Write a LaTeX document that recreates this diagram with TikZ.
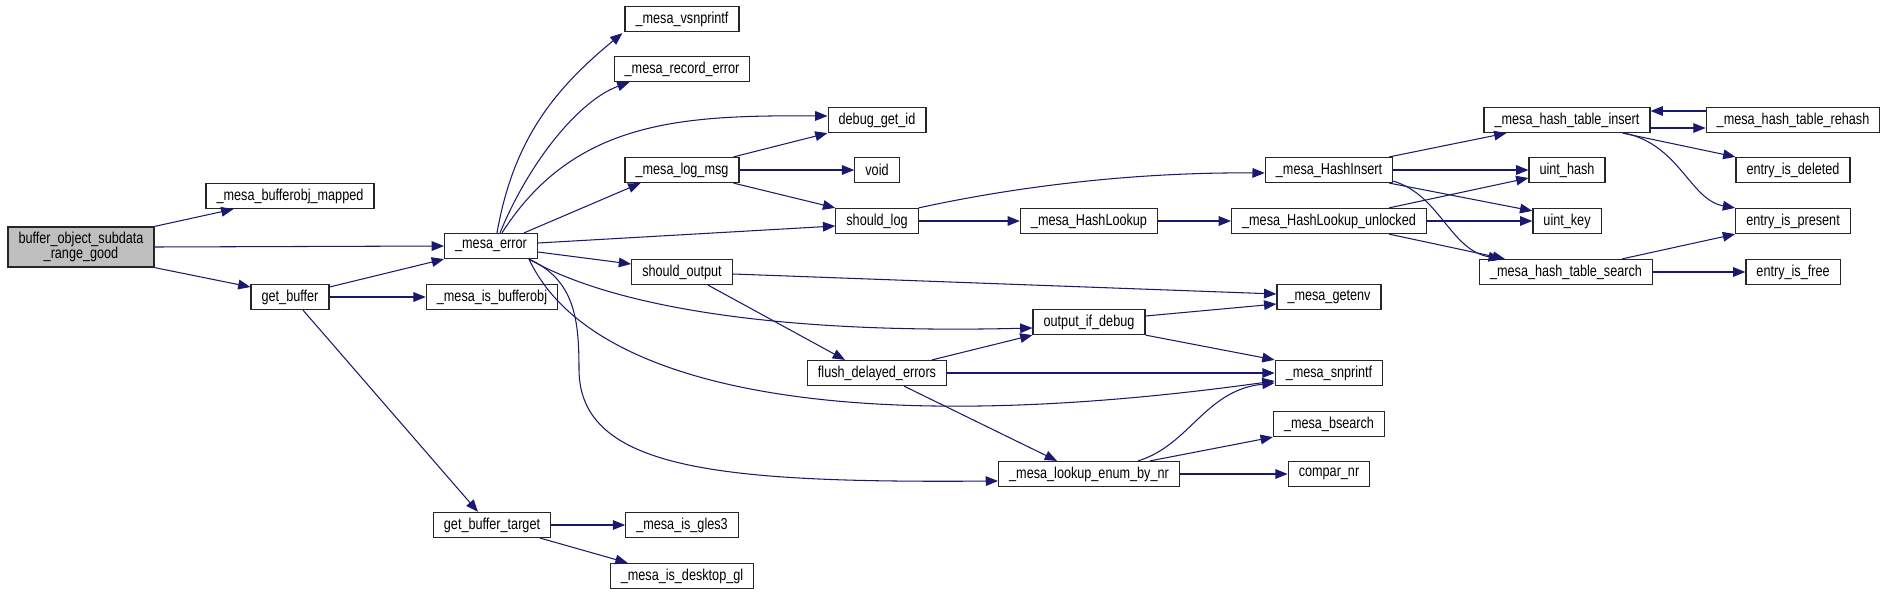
\documentclass[tikz,border=0pt]{standalone}
\usepackage{fontspec}
\setmainfont[FakeStretch=0.8]{Liberation Sans}
\usepackage{xcolor}
\definecolor{edgeblue}{RGB}{25,25,112}
\definecolor{rootgray}{RGB}{191,191,191}
\usepackage{tikz}
\usetikzlibrary{arrows.meta,calc}

\begin{document}
\begin{tikzpicture}[x=0.02cm, y=-0.02cm,
    fn/.style={rectangle, draw=black!85, fill=white, line width=0.7pt,
               minimum height=0.5cm, inner xsep=6pt, inner ysep=0pt,
               font=\fontsize{9}{10}\selectfont},
    cur/.style={fn, fill=rootgray, minimum height=0.8cm, align=center,
                font=\fontsize{9}{8.5}\selectfont},
    arr/.style={-{Triangle[length=7pt,width=5.5pt]}, edgeblue, line width=0.6pt},
  ]
  \useasboundingbox (0,0) rectangle (1888,595);

  %% COLUMN 1 -- caller
  \node[cur] (bosr) at (81,247) {buffer\_object\_subdata\\\_range\_good};

  %% COLUMN 2
  \node[fn] (bomap) at (290,196) {\_mesa\_bufferobj\_mapped};
  \node[fn] (gbuf)  at (290,297) {get\_buffer};

  %% COLUMN 3
  \node[fn] (err)  at (491,246) {\_mesa\_error};
  \node[fn] (isbo) at (492,297) {\_mesa\_is\_bufferobj};
  \node[fn] (gbt)  at (492,525) {get\_buffer\_target};

  %% COLUMN 4
  \node[fn] (vsnp) at (682,19)  {\_mesa\_vsnprintf};
  \node[fn] (rec)  at (682,69)  {\_mesa\_record\_error};
  \node[fn] (logm) at (682,170) {\_mesa\_log\_msg};
  \node[fn] (sout) at (682,272) {should\_output};
  \node[fn] (gles) at (682,525) {\_mesa\_is\_gles3};
  \node[fn] (desk) at (682,576) {\_mesa\_is\_desktop\_gl};

  %% COLUMN 5
  \node[fn] (dbg)   at (877,120) {debug\_get\_id};
  \node[fn] (vd)    at (877,170) {void};
  \node[fn] (slog)  at (877,221) {should\_log};
  \node[fn] (flush) at (877,373) {flush\_delayed\_errors};

  %% COLUMN 6
  \node[fn] (hlook) at (1089,221) {\_mesa\_HashLookup};
  \node[fn] (oid)   at (1089,322) {output\_if\_debug};
  \node[fn] (lenum) at (1089,474) {\_mesa\_lookup\_enum\_by\_nr};

  %% COLUMN 7
  \node[fn] (hins) at (1329,170) {\_mesa\_HashInsert};
  \node[fn] (hlu)  at (1329,221) {\_mesa\_HashLookup\_unlocked};
  \node[fn] (genv) at (1329,297) {\_mesa\_getenv};
  \node[fn] (snp)  at (1329,373) {\_mesa\_snprintf};
  \node[fn] (bsr)  at (1329,424) {\_mesa\_bsearch};
  \node[fn] (cmp)  at (1329,474) {compar\_nr};

  %% COLUMN 8
  \node[fn] (hti)   at (1567,120) {\_mesa\_hash\_table\_insert};
  \node[fn] (uhash) at (1567,170) {uint\_hash};
  \node[fn] (ukey)  at (1567,221) {uint\_key};
  \node[fn] (hts)   at (1566,272) {\_mesa\_hash\_table\_search};

  %% COLUMN 9
  \node[fn] (rehash) at (1793,120) {\_mesa\_hash\_table\_rehash};
  \node[fn] (idel)   at (1793,170) {entry\_is\_deleted};
  \node[fn] (ipres)  at (1793,221) {entry\_is\_present};
  \node[fn] (ifree)  at (1793,272) {entry\_is\_free};

  %% calls of the caller and get_buffer
  \draw[arr] (bosr.north east) -- ($(bomap.south west)+(28,0)$);
  \draw[arr] (bosr.east) -- (err.west);
  \draw[arr] (bosr.south east) -- ($(gbuf.west)+(0,-10)$);
  \draw[arr] ($(gbuf.east)+(0,-10)$) -- (err.south west);
  \draw[arr] (gbuf.east) -- (isbo.west);
  \draw[arr] ($(gbuf.south)+(13,0)$) -- ($(gbt.north)+(-14,0)$);
  \draw[arr] (gbt.east) -- (gles.west);
  \draw[arr] ($(gbt.south east)+(-11,0)$) -- ($(desk.north west)+(18,0)$);

  %% calls of _mesa_error
  \draw[arr] ($(err.north)+(6,0)$) .. controls (513,142) and (552,91) .. ($(vsnp.south west)+(-2,1)$);
  \draw[arr] ($(err.north)+(9,0)$) .. controls (530,160) and (580,100) .. ($(rec.south west)+(16,0)$);
  \draw[arr] ($(err.north)+(11,0)$) .. controls (574,120) and (682,115) .. ($(dbg.west)+(0,-4)$);
  \draw[arr] ($(err.north east)+(-14,0)$) -- ($(logm.south west)+(16,0)$);
  \draw[arr] ($(err.east)+(0,-3)$) -- ($(slog.west)+(0,5)$);
  \draw[arr] ($(err.east)+(0,6)$) -- ($(sout.west)+(0,-8)$);
  \draw[arr] ($(err.south east)+(-9,0)$) .. controls (600,300) and (750,335) .. ($(oid.west)+(0,6)$);
  \draw[arr] ($(err.south east)+(-9,0)$) .. controls (590,390) and (850,440) .. ($(snp.west)+(0,8)$);
  \draw[arr] ($(err.south east)+(-9,0)$) .. controls (575,280) and (579,320) .. (579,370)
             .. controls (580,470) and (720,483) .. ($(lenum.west)+(0,7)$);

  %% calls in the logging chain
  \draw[arr] ($(logm.north east)+(-6,0)$) -- (dbg.south west);
  \draw[arr] (logm.east) -- (vd.west);
  \draw[arr] ($(logm.south east)+(-6,0)$) -- (slog.north west);
  \draw[arr] (slog.east) -- (hlook.west);
  \draw[arr] (slog.north east) .. controls (1000,190) and (1120,172) .. ($(hins.west)+(0,3)$);
  \draw[arr] (hlook.east) -- (hlu.west);
  \draw[arr] ($(sout.east)+(0,2)$) -- ($(genv.west)+(0,-3)$);
  \draw[arr] ($(sout.south)+(26,0)$) -- ($(flush.north)+(-32,0)$);
  \draw[arr] ($(flush.north)+(55,0)$) -- (oid.south west);
  \draw[arr] (flush.east) -- (snp.west);
  \draw[arr] ($(flush.south)+(27,0)$) -- ($(lenum.north)+(-32,0)$);
  \draw[arr] ($(oid.east)+(0,-6)$) -- ($(genv.west)+(0,7)$);
  \draw[arr] (oid.south east) -- (snp.north west);
  \draw[arr] ($(lenum.north)+(49,0)$) .. controls (1190,445) and (1205,390) .. ($(snp.west)+(0,10)$);
  \draw[arr] ($(lenum.north)+(61,0)$) -- (bsr.south west);
  \draw[arr] (lenum.east) -- (cmp.west);

  %% calls in the hash table
  \draw[arr] ($(hins.north east)+(-4,0)$) -- ($(hti.south west)+(23,0)$);
  \draw[arr] (hins.east) -- (uhash.west);
  \draw[arr] ($(hins.south east)+(-4,0)$) -- ($(ukey.north west)+(0,3)$);
  \draw[arr] ($(hins.south east)+(0,-2)$) .. controls (1440,195) and (1450,250) .. ($(hts.north west)+(22,0)$);
  \draw[arr] ($(hlu.north east)+(-38,0)$) -- ($(uhash.west)+(0,8)$);
  \draw[arr] (hlu.east) -- (ukey.west);
  \draw[arr] ($(hlu.south east)+(-38,0)$) -- ($(hts.north west)+(26,0)$);
  \draw[arr] ($(hti.east)+(0,8)$) -- ($(rehash.west)+(0,8)$);
  \draw[arr] ($(rehash.west)+(0,-9)$) -- ($(hti.east)+(0,-9)$);
  \draw[arr] ($(hti.south east)+(-28,0)$) -- (idel.north west);
  \draw[arr] ($(hti.south east)+(-26,0)$) .. controls (1680,145) and (1690,200) .. (ipres.north west);
  \draw[arr] ($(hts.north east)+(-31,0)$) -- (ipres.south west);
  \draw[arr] (hts.east) -- (ifree.west);

\end{tikzpicture}
\end{document}
